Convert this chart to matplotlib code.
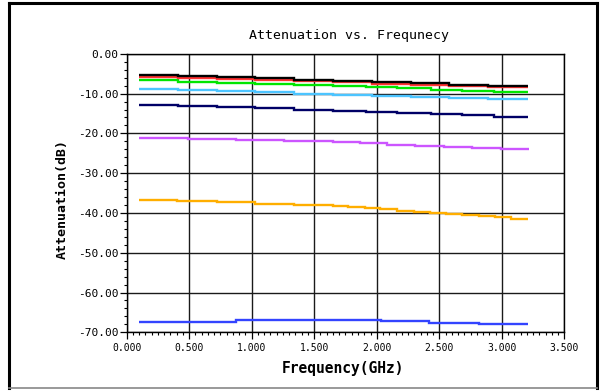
import matplotlib
matplotlib.use("Agg")
import matplotlib.pyplot as plt
from matplotlib.ticker import MultipleLocator, FormatStrFormatter
from matplotlib.lines import Line2D

# Frequency breakpoints (GHz) and step levels (dB)
edges_10 = [0.10, 0.41, 0.72, 1.03, 1.34, 1.65, 1.96, 2.27, 2.58, 2.89, 3.21]
edges_11 = [0.10, 0.41, 0.72, 1.03, 1.34, 1.65, 1.91, 2.16, 2.43, 2.68, 2.94, 3.21]
edges_purple = [0.10, 0.49, 0.873, 1.258, 1.653, 1.867, 2.08, 2.307, 2.535, 2.762, 2.99, 3.215]
edges_orange = [0.10, 0.406, 0.719, 1.028, 1.340, 1.648, 1.773, 1.907, 2.027, 2.161,
                2.294, 2.422, 2.554, 2.682, 2.815, 2.943, 3.077, 3.21]
edges_blue = [0.10, 0.873, 1.65, 2.035, 2.42, 2.815, 3.21]

black_db = [-5.25, -5.6, -5.95, -6.2, -6.55, -6.75, -7.15, -7.45, -7.75, -8.05]
red_db = [-5.75, -6.05, -6.35, -6.65, -6.95, -7.2, -7.55, -7.85, -8.15, -8.45]
green_db = [-6.7, -7.0, -7.3, -7.6, -7.85, -8.1, -8.4, -8.7, -9.0, -9.3, -9.65]
lightblue_db = [-8.8, -9.05, -9.42, -9.72, -10.0, -10.25, -10.56, -10.85, -11.12, -11.42]
navy_db = [-12.77, -13.1, -13.46, -13.7, -14.05, -14.3, -14.63, -14.9, -15.14, -15.5, -15.83]
purple_db = [-21.05, -21.38, -21.7, -21.88, -22.2, -22.5, -22.85, -23.12, -23.38, -23.64, -23.97]
orange_db = [-36.7, -37.0, -37.28, -37.63, -37.93, -38.2, -38.47, -38.72, -39.06, -39.4,
             -39.67, -39.92, -40.25, -40.5, -40.76, -41.1, -41.45]
blue_db = [-67.45, -67.0, -66.95, -67.27, -67.7, -67.94]

series = [
    (edges_blue, blue_db, "#3344ff"),
    (edges_orange, orange_db, "#ffae00"),
    (edges_purple, purple_db, "#cc55ff"),
    (edges_11, navy_db, "#000066"),
    (edges_10, lightblue_db, "#4cc4ff"),
    (edges_11, green_db, "#00e600"),
    (edges_10, red_db, "#ff3333"),
    (edges_10, black_db, "#000000"),
]

mono = "DejaVu Sans Mono"

fig = plt.figure(figsize=(6.0, 3.92), dpi=100)
ax = fig.add_axes([126.7 / 600, 1 - 332.3 / 392, (564.3 - 126.7) / 600, (332.3 - 53.8) / 392])

for edges, vals, col in series:
    ax.stairs(vals, edges, baseline=None, color=col, linewidth=1.7)

ax.set_xlim(0, 3.5)
ax.set_ylim(-70, 0)
ax.xaxis.set_major_locator(MultipleLocator(0.5))
ax.xaxis.set_minor_locator(MultipleLocator(0.05))
ax.yaxis.set_major_locator(MultipleLocator(10))
ax.yaxis.set_minor_locator(MultipleLocator(2))
ax.xaxis.set_major_formatter(FormatStrFormatter("%.3f"))
ax.yaxis.set_major_formatter(FormatStrFormatter("%.2f"))

ax.grid(True, which="major", color="#1a1a1a", linewidth=1.0)
ax.set_axisbelow(True)
ax.tick_params(axis="both", which="major", direction="out", length=5, width=0.9, color="black")
ax.tick_params(axis="both", which="minor", direction="out", length=2.5, width=0.8, color="black")
ax.tick_params(axis="x", which="major", labelsize=7, pad=3)
ax.tick_params(axis="y", which="major", labelsize=8, pad=1)
for lab in ax.get_xticklabels() + ax.get_yticklabels():
    lab.set_family(mono)
for sp in ax.spines.values():
    sp.set_color("black")
    sp.set_linewidth(1.0)

fig.text(349 / 600, 1 - 36 / 392, "Attenuation vs. Frequnecy", family=mono,
         fontsize=9.5, ha="center", va="center")
fig.text(343 / 600, 1 - 368 / 392, "Frequency(GHz)", family=mono, fontweight="bold",
         fontsize=10.5, ha="center", va="center")
fig.text(62 / 600, 1 - 199 / 392, "Attenuation(dB)", family=mono, fontweight="bold",
         fontsize=9.5, ha="center", va="center", rotation=90)

# outer frame
fig.add_artist(Line2D([9 / 600, 597 / 600], [1 - 3 / 392, 1 - 3 / 392], transform=fig.transFigure,
                      color="black", linewidth=2.2))
fig.add_artist(Line2D([9 / 600, 9 / 600], [1 - 3 / 392, 1 - 388 / 392], transform=fig.transFigure,
                      color="black", linewidth=2.2))
fig.add_artist(Line2D([597 / 600, 597 / 600], [1 - 3 / 392, 1 - 388 / 392], transform=fig.transFigure,
                      color="black", linewidth=2.2))
fig.add_artist(Line2D([9 / 600, 597 / 600], [1 - 388 / 392, 1 - 388 / 392], transform=fig.transFigure,
                      color="#888888", linewidth=1.2))

fig.savefig("out.png", dpi=100)
